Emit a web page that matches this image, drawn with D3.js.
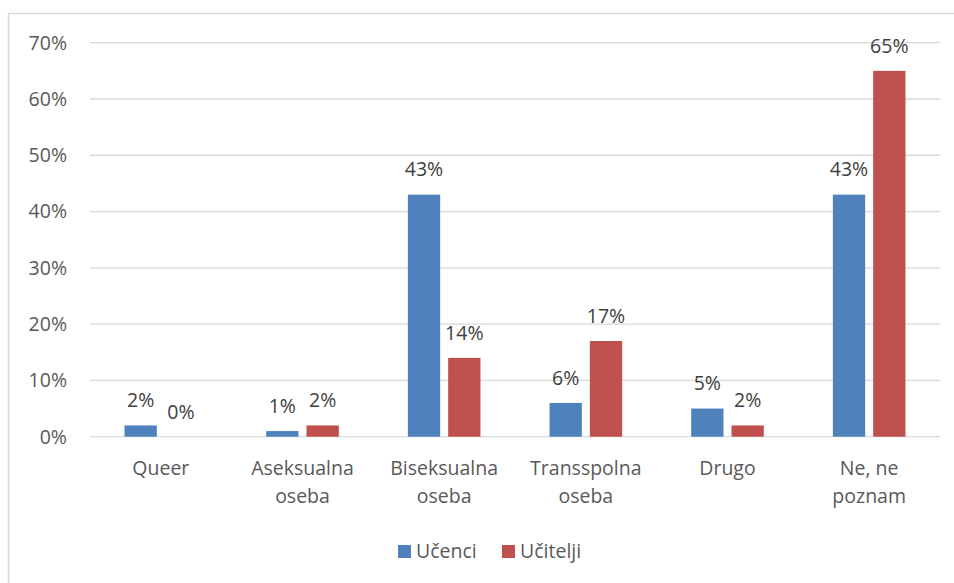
<!DOCTYPE html>
<html><head><meta charset="utf-8">
<script src="https://cdn.jsdelivr.net/npm/d3@7"></script>
<style>
html,body{margin:0;padding:0;background:#fff;}
svg{display:block;font-family:"Open Sans",sans-serif;}
</style></head>
<body>
<svg id="chart" width="954" height="583"></svg>
<script>
const categories = [["Queer"],["Aseksualna","oseba"],["Biseksualna","oseba"],["Transspolna","oseba"],["Drugo"],["Ne, ne","poznam"]];
const seriesNames = ["Učenci","Učitelji"];
const ucenci = [2,1,43,6,5,43];
const ucitelji = [0,2,14,17,2,65];
const yTicks = [0,10,20,30,40,50,60,70];
const colors = ["#4f81bd","#c0504d"];

const FS = 19.5;
const svg = d3.select("#chart");
const margin = {left:90, right:14, top:42.7, bottom:146.3};
const W = 954, H = 583;

svg.append("rect").attr("x",8.5).attr("y",13.5).attr("width",W).attr("height",H)
  .attr("fill","#fff").attr("stroke","#d9d9d9").attr("stroke-width",1.5);

const x0 = d3.scaleBand().domain(d3.range(categories.length)).range([margin.left, W-margin.right]);
const y = d3.scaleLinear().domain([0,70]).range([H-margin.bottom, margin.top]);

// grid
svg.append("g").selectAll("line").data(yTicks).join("line")
  .attr("x1",margin.left).attr("x2",W-margin.right)
  .attr("y1",d=>y(d)).attr("y2",d=>y(d))
  .attr("stroke","#d9d9d9").attr("stroke-width",1.3);

// y labels
svg.append("g").selectAll("text").data(yTicks).join("text")
  .attr("x",67).attr("y",d=>y(d)).attr("dy","0.35em")
  .attr("text-anchor","end").attr("fill","#595959").attr("font-size",FS)
  .text(d=>d+"%");

const data = [ucenci, ucitelji];
const barW = 32.3, gap = 8;
const offs = [-gap/2-barW, gap/2];

data.forEach((vals,si)=>{
  const g = svg.append("g");
  g.selectAll("rect").data(vals).join("rect")
    .attr("x",(d,i)=>x0(i)+x0.bandwidth()/2+offs[si])
    .attr("width",barW)
    .attr("y",d=>y(d)).attr("height",d=>y(0)-y(d))
    .attr("fill",colors[si]);
  g.selectAll("text").data(vals).join("text")
    .attr("x",(d,i)=>x0(i)+x0.bandwidth()/2+offs[si]+barW/2)
    .attr("y",d=>y(d)-25).attr("dy","0.35em")
    .attr("text-anchor","middle").attr("fill","#404040").attr("font-size",FS)
    .text(d=>d+"%");
});

// x labels
const xl = svg.append("g");
categories.forEach((lines,i)=>{
  const t = xl.append("text").attr("text-anchor","middle").attr("fill","#595959").attr("font-size",FS);
  lines.forEach((ln,j)=>{
    t.append("tspan").attr("x",x0(i)+x0.bandwidth()/2).attr("y",468+j*28).attr("dy","0.35em").text(ln);
  });
});

// legend
const leg = svg.append("g");
const legX = [398, 502];
seriesNames.forEach((n,i)=>{
  leg.append("rect").attr("x",legX[i]).attr("y",545).attr("width",13).attr("height",13).attr("fill",colors[i]);
  leg.append("text").attr("x",legX[i]+18).attr("y",551.5).attr("dy","0.35em")
    .attr("fill","#595959").attr("font-size",FS).text(n);
});
</script>
</body></html>
